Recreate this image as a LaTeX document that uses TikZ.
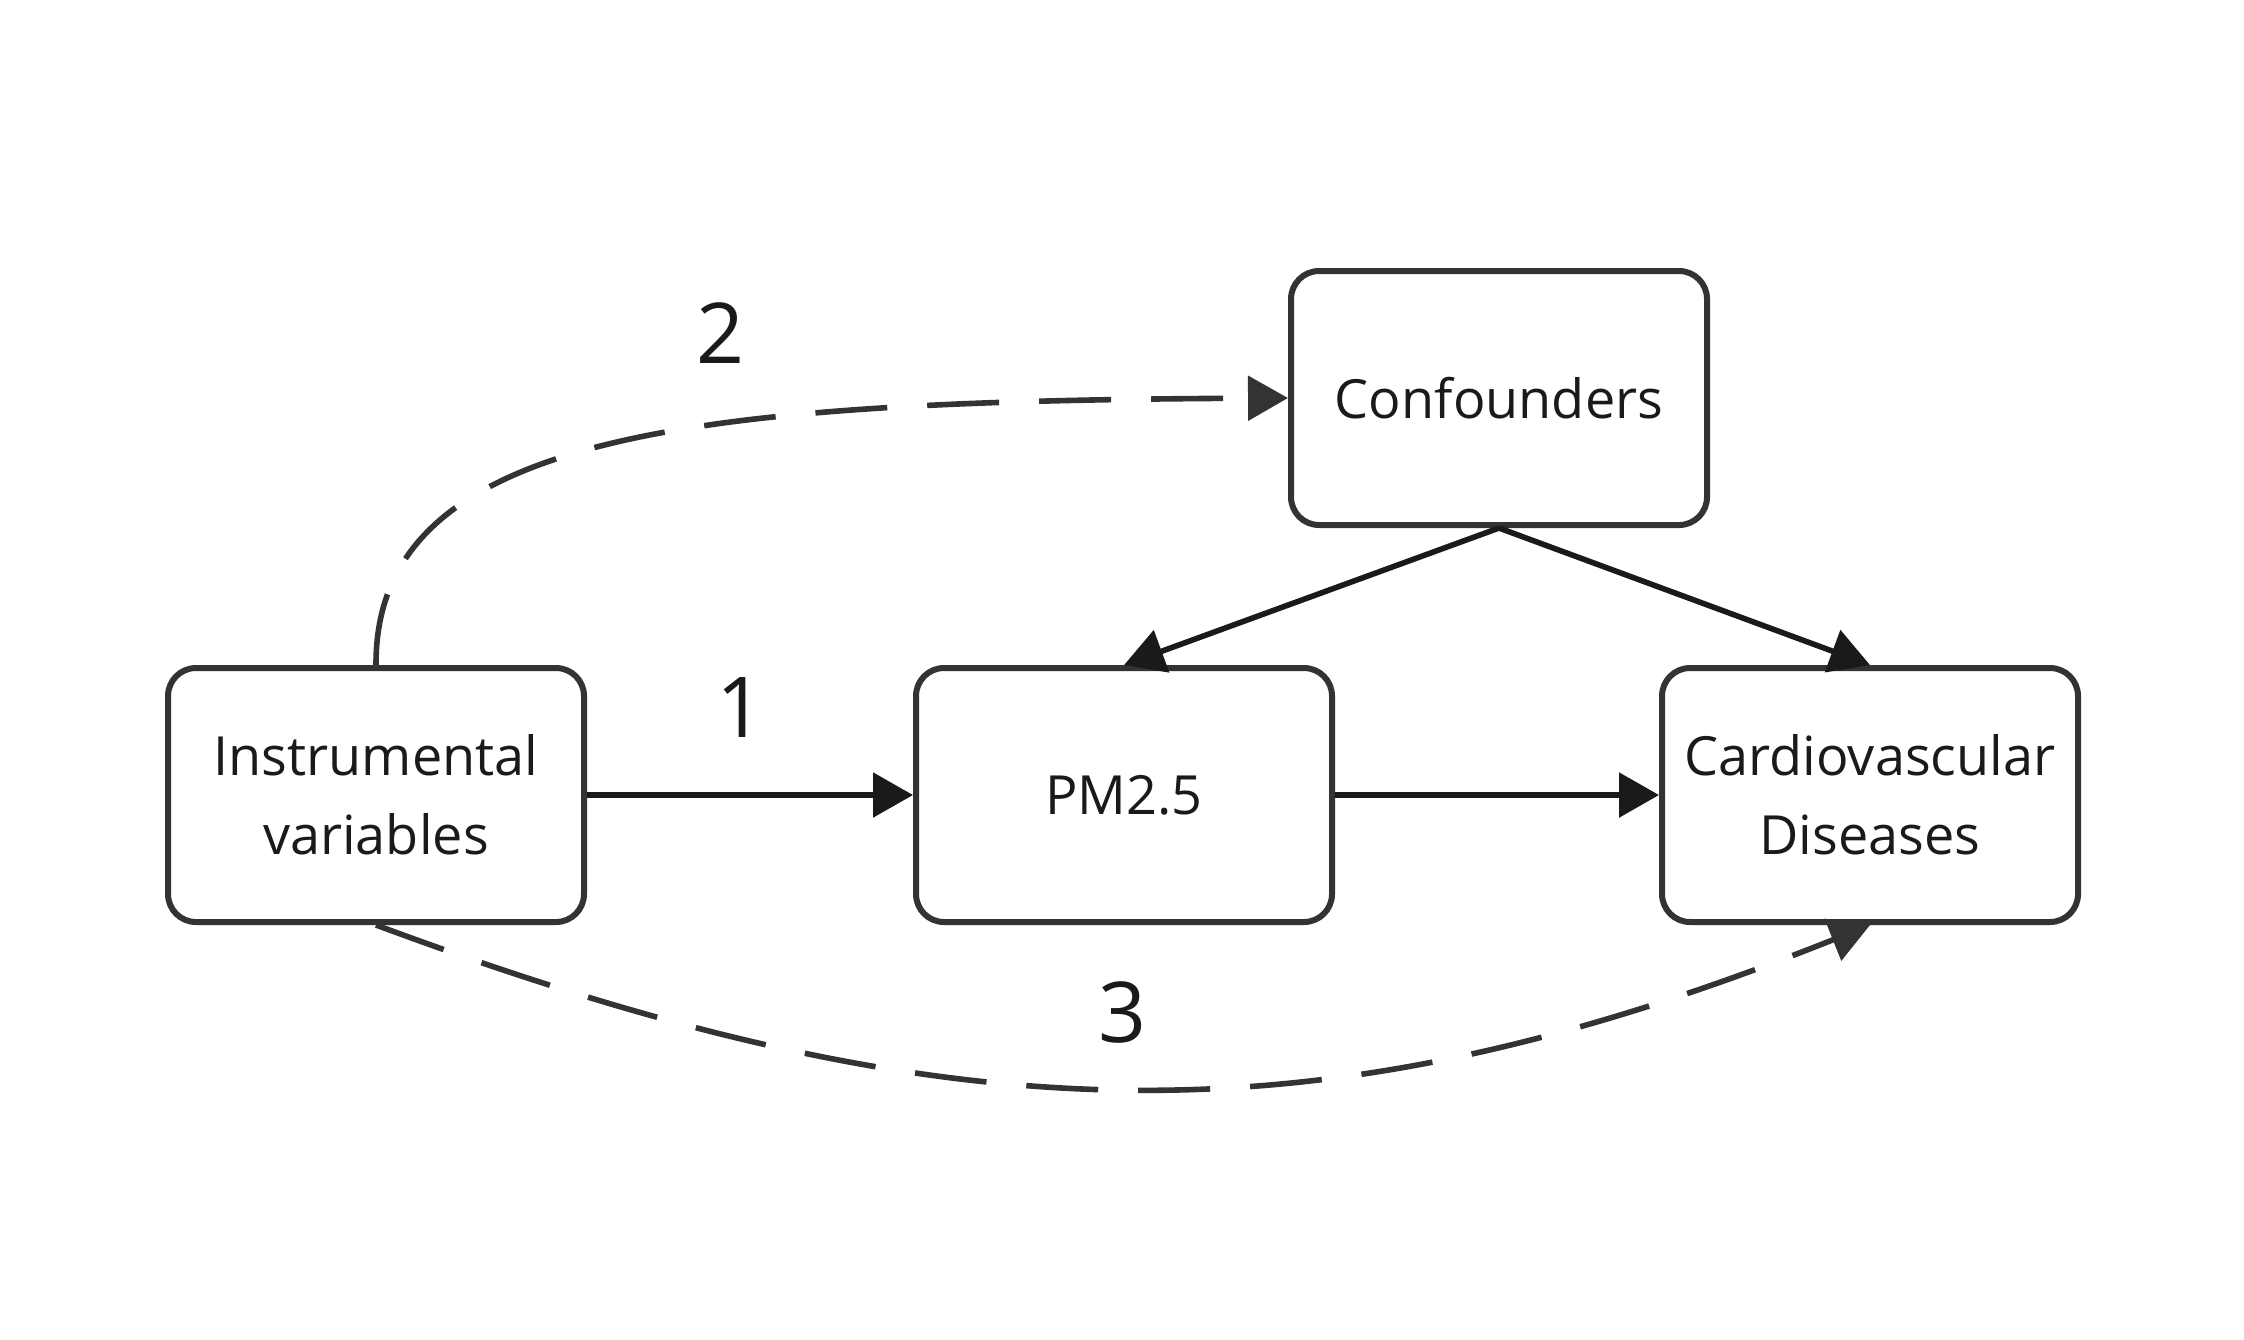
\documentclass[tikz,border=0pt]{standalone}
\usepackage{fontspec}
\setmainfont{Open Sans}
\usepackage{xcolor}
\usetikzlibrary{arrows.meta,positioning}

\definecolor{boxgray}{HTML}{333333}
\definecolor{inkblack}{HTML}{1A1A1A}

\begin{document}
\begin{tikzpicture}[
  x=0.25pt, y=-0.25pt,
  font=\fontsize{13.5}{19.7}\selectfont,
  text=inkblack,
  box/.style ={draw=boxgray, line width=1.5pt, rounded corners=7pt, align=center,
               minimum width=104pt, minimum height=63.5pt, inner sep=0pt},
  num/.style ={font=\fontsize{21}{25}\selectfont},
  ar/.style  ={-{Triangle[length=10pt,width=11pt]}, line width=1.4pt, draw=inkblack},
  dar/.style ={ar, draw=boxgray, dash pattern=on 18pt off 10pt}
]
\useasboundingbox (0,0) rectangle (2244,1339);

\node[box] (iv)   at (376,795)  {Instrumental\\variables};
\node[box] (pm)   at (1124,795) {PM2.5};
\node[box] (cvd)  at (1870,795) {Cardiovascular\\Diseases};
\node[box] (conf) at (1499,398) {Confounders};

\node[num] (n1) at (740,707)  {1};
\node[num] (n2) at (720,333)  {2};
\node[num] (n3) at (1122,1012) {3};

\draw[ar] (iv.east) -- (pm.west);
\draw[ar] (pm.east) -- (cvd.west);
\draw[ar] (conf.south) -- (pm.north);
\draw[ar] (conf.south) -- (cvd.north);
\draw[dar] (iv.north) .. controls (375,430) and (700,401) .. (conf.west);
\draw[dar] (iv.south) .. controls (963,1143) and (1323,1143) .. (cvd.south);

\end{tikzpicture}
\end{document}
